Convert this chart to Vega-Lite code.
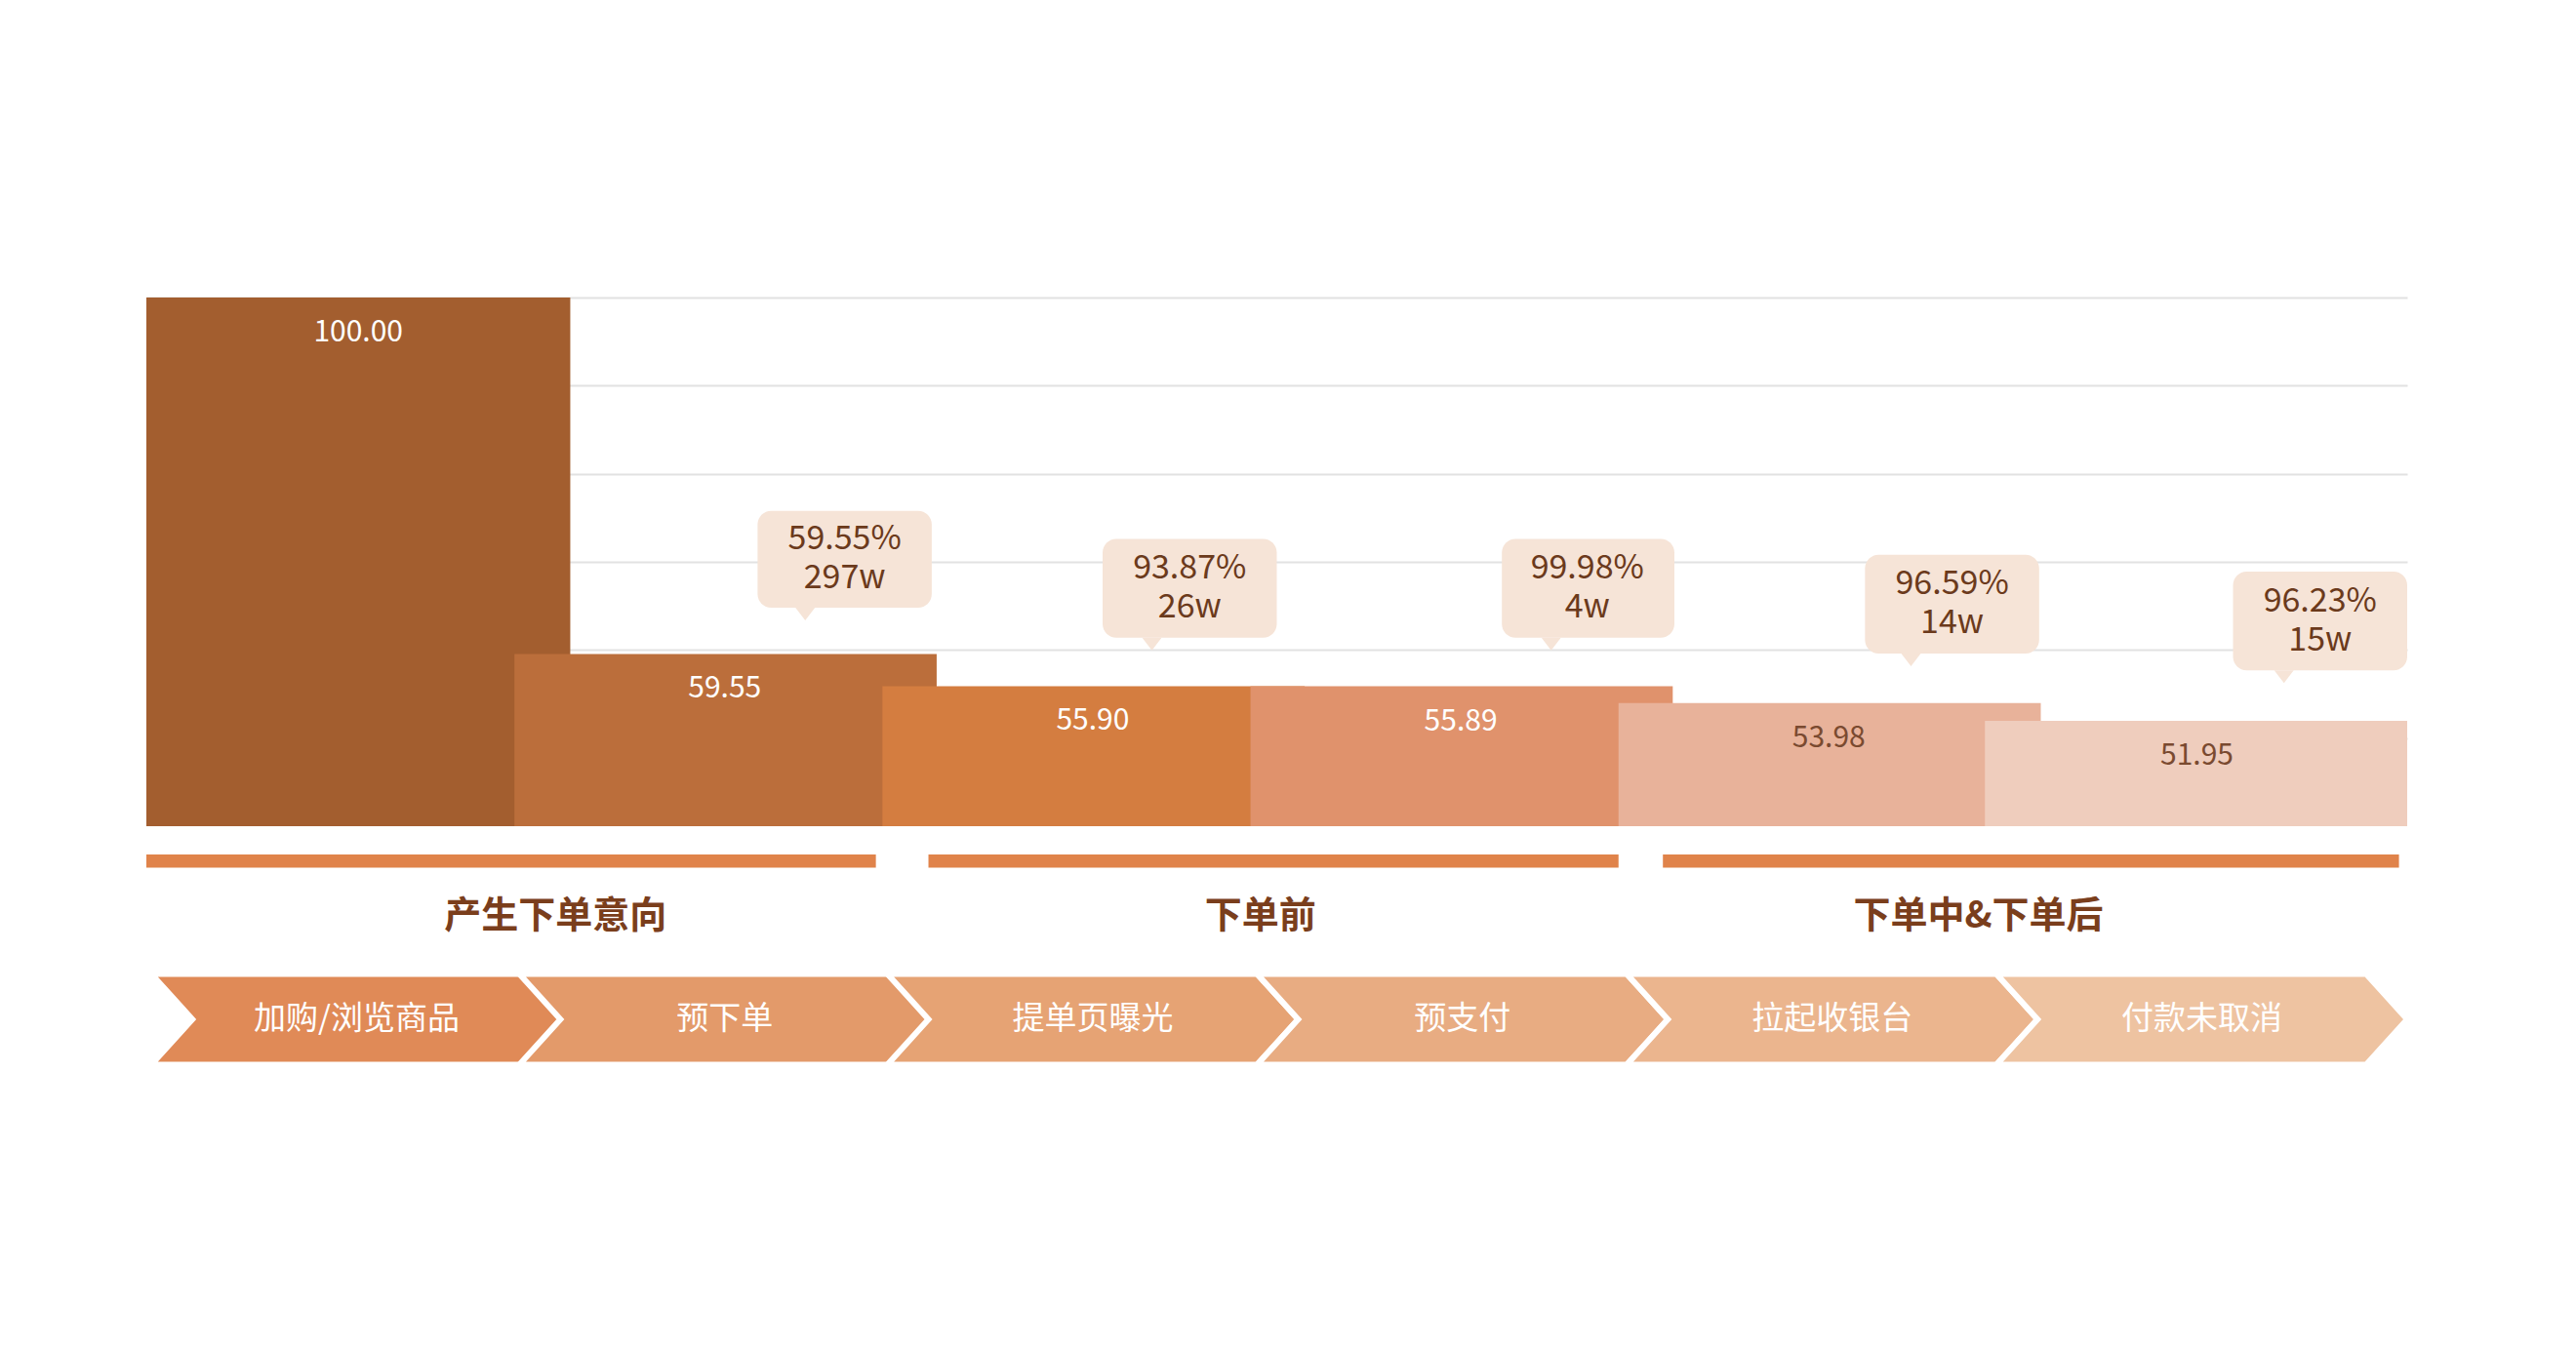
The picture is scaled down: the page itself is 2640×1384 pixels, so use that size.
{
"$schema":"https://vega.github.io/schema/vega-lite/v6.json",
"width":2317,"height":786,
"autosize":{"type":"none"},
"padding":{"left":150,"top":305,"right":173,"bottom":293},
"background":"white",
"config":{"view":{"stroke":null},"font":"Noto Sans CJK SC"},
"datasets":{
"bars":[
{"step":"加购/浏览商品","value":100,"label":"100.00","start":0,"end":258,"mid":129},
{"step":"预下单","value":59.55,"label":"59.55","start":224,"end":481,"mid":352},
{"step":"提单页曝光","value":55.90,"label":"55.90","start":448,"end":705,"mid":576},
{"step":"预支付","value":55.89,"label":"55.89","start":672,"end":929,"mid":800},
{"step":"拉起收银台","value":53.98,"label":"53.98","start":896,"end":1153,"mid":1024},
{"step":"付款未取消","value":51.95,"label":"51.95","start":1119,"end":1376,"mid":1248}
],
"callouts":[
{"x0":372,"x1":478,"yTop":75.8,"yBot":64.8,"cx":425,"px":401,"cy":70.3,"text":"59.55%\n297w"},
{"x0":582,"x1":688,"yTop":72.6,"yBot":61.4,"cx":635,"px":612,"cy":67.0,"text":"93.87%\n26w"},
{"x0":825,"x1":930,"yTop":72.6,"yBot":61.4,"cx":877,"px":855,"cy":67.0,"text":"99.98%\n4w"},
{"x0":1046,"x1":1152,"yTop":70.8,"yBot":59.6,"cx":1099,"px":1074,"cy":65.2,"text":"96.59%\n14w"},
{"x0":1270,"x1":1376,"yTop":68.9,"yBot":57.7,"cx":1323,"px":1301,"cy":63.3,"text":"96.23%\n15w"}
],
"stages":[
{"stage":"产生下单意向","s0":0,"s1":444,"mid":249},
{"stage":"下单前","s0":476,"s1":896,"mid":678},
{"stage":"下单中&下单后","s0":923,"s1":1371,"mid":1115}
],
"chevrons":[
{"step":"加购/浏览商品","c":128},
{"step":"预下单","c":352},
{"step":"提单页曝光","c":576},
{"step":"预支付","c":801},
{"step":"拉起收银台","c":1026},
{"step":"付款未取消","c":1251}
]
},
"resolve":{"scale":{"color":"independent"}},
"layer":[
{"data":{"name":"bars"},"mark":{"type":"rect"},
"encoding":{
"x":{"field":"start","type":"quantitative","scale":{"domain":[0,1376],"nice":false,"zero":false},"axis":null},
"x2":{"field":"end"},
"y":{"field":"value","type":"quantitative","scale":{"domain":[13,100],"nice":false,"zero":false},
"axis":{"values":[50,60,70,80,90,100],"grid":true,"gridColor":"#e2e2e2","gridWidth":2,"domain":false,"ticks":false,"labels":false,"title":null}},
"y2":{"datum":40},
"color":{"field":"step","type":"nominal","sort":null,"legend":null,
"scale":{"domain":["加购/浏览商品","预下单","提单页曝光","预支付","拉起收银台","付款未取消"],"range":["#a35e2f","#bb6e3b","#d47d40","#e0926c","#e8b29a","#efcdbd"]}}}},
{"data":{"name":"bars"},"transform":[{"filter":"datum.value > 55"}],
"mark":{"type":"text","color":"white","fontSize":30,"dy":36,"baseline":"middle"},
"encoding":{"x":{"field":"mid","type":"quantitative"},"y":{"field":"value","type":"quantitative"},"text":{"field":"label"}}},
{"data":{"name":"bars"},"transform":[{"filter":"datum.value < 55"}],
"mark":{"type":"text","color":"#7a4a30","fontSize":30,"dy":36,"baseline":"middle"},
"encoding":{"x":{"field":"mid","type":"quantitative"},"y":{"field":"value","type":"quantitative"},"text":{"field":"label"}}},
{"data":{"name":"callouts"},"mark":{"type":"rect","color":"#f6e4d7","cornerRadius":14},
"encoding":{"x":{"field":"x0","type":"quantitative"},"x2":{"field":"x1"},"y":{"field":"yTop","type":"quantitative"},"y2":{"field":"yBot"}}},
{"data":{"name":"callouts"},"mark":{"type":"point","filled":true,"opacity":1,"color":"#f6e4d7","shape":"M-1,0L1,0L0,1.3Z","size":400},
"encoding":{"x":{"field":"px","type":"quantitative"},"y":{"field":"yBot","type":"quantitative"}}},
{"data":{"name":"callouts"},"mark":{"type":"text","color":"#6b3a1c","fontSize":34,"lineBreak":"\n","lineHeight":40,"baseline":"middle","dy":-20},
"encoding":{"x":{"field":"cx","type":"quantitative"},"y":{"field":"cy","type":"quantitative"},"text":{"field":"text"}}},
{"data":{"name":"stages"},"mark":{"type":"rect","color":"#e0834a"},
"encoding":{"x":{"field":"s0","type":"quantitative"},"x2":{"field":"s1"},"y":{"datum":36.8},"y2":{"datum":35.3}}},
{"data":{"name":"stages"},"mark":{"type":"text","color":"#7a3e1c","fontSize":38,"fontWeight":"bold","baseline":"middle"},
"encoding":{"x":{"field":"mid","type":"quantitative"},"y":{"datum":29.7},"text":{"field":"stage"}}},
{"data":{"name":"chevrons"},"mark":{"type":"point","filled":true,"opacity":1,"stroke":"white","strokeWidth":6,"strokeOpacity":1,"shape":"M-1,-0.221L0.8,-0.221L1,0L0.8,0.221L-1,0.221L-0.8,0Z","size":177241},
"encoding":{"x":{"field":"c","type":"quantitative"},"y":{"datum":18.1},
"color":{"field":"step","type":"nominal","sort":null,"legend":null,
"scale":{"domain":["加购/浏览商品","预下单","提单页曝光","预支付","拉起收银台","付款未取消"],"range":["#e08a57","#e39a6a","#e6a374","#e8ac82","#ebb58e","#eec3a1"]}}}},
{"data":{"name":"chevrons"},"mark":{"type":"text","color":"white","fontSize":33,"baseline":"middle"},
"encoding":{"x":{"field":"c","type":"quantitative"},"y":{"datum":18.1},"text":{"field":"step"}}}
]
}
